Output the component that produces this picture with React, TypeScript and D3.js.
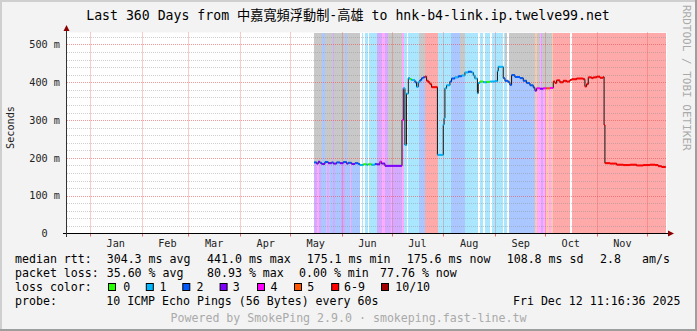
import React, { useEffect } from 'react';
import * as d3 from 'd3';

// ---------- text ----------
const TITLE = 'Last 360 Days from 中嘉寬頻浮動制-高雄 to hnk-b4-link.ip.twelve99.net';
const Y_LABEL = 'Seconds';
const WATERMARK = 'RRDTOOL / TOBI OETIKER';
const FOOTER = 'Powered by SmokePing 2.9.0 · smokeping.fast-line.tw';
const PROBE_TEXT = '10 ICMP Echo Pings (56 Bytes) every 60s';
const DATE_TEXT = 'Fri Dec 12 11:16:36 2025';

const rttLabel = 'median rtt:';
const rttStats = ['304.3 ms avg', '441.0 ms max', '175.1 ms min', '175.6 ms now', '108.8 ms sd', '2.8', 'am/s'];
const lossLabel = 'packet loss:';
const lossStats = ['35.60 % avg', '80.93 % max', '0.00 % min', '77.76 % now'];
const lossColorLabel = 'loss color:';
const probeLabel = 'probe:';

// ---------- axes ----------
const timeStart = '2024-12-18 06:00';
const timeEnd = '2025-12-13 06:00';
const dataEnd = '2025-12-12 11:16';
const yMaxMs = 531.7;
const yMajorTicks = [0, 100, 200, 300, 400, 500];
const yMinorTicks = [20, 40, 60, 80, 120, 140, 160, 180, 220, 240, 260, 280, 320, 340, 360, 380, 420, 440, 460, 480, 520];

// ---------- loss classes ----------
const lossNames = ['0', '1', '2', '3', '4', '5', '6-9', '10/10'];
const lossColors = ['#26ff00', '#00b8ff', '#0059ff', '#7e00ff', '#ff00ff', '#ff5500', '#ff0000', '#a10000'];

// ---------- loss background bands (start, class; -1 = no data) ----------
const bandStart = [
  '2025-05-15 11:00', '2025-05-17 06:00', '2025-05-18 11:00', '2025-05-19 16:00', '2025-05-22 16:00',
  '2025-05-23 06:00', '2025-05-24 11:00', '2025-05-25 01:00', '2025-05-26 21:00', '2025-05-28 01:00',
  '2025-05-31 16:00', '2025-06-03 01:00', '2025-06-06 01:00', '2025-06-06 16:00', '2025-06-12 01:00',
  '2025-06-12 23:00', '2025-06-13 21:00', '2025-06-15 01:00', '2025-06-16 21:00', '2025-06-17 11:00',
  '2025-06-18 23:00', '2025-06-19 13:00', '2025-06-22 06:00', '2025-06-25 06:00', '2025-06-27 01:00',
  '2025-06-30 16:00', '2025-07-01 06:00', '2025-07-07 06:00', '2025-07-08 04:00', '2025-07-10 06:00',
  '2025-07-10 21:00', '2025-07-17 11:00', '2025-07-20 18:00', '2025-07-28 21:00', '2025-08-05 16:00',
  '2025-08-14 01:00', '2025-08-21 21:00', '2025-08-22 18:00', '2025-08-24 21:00', '2025-08-26 01:00',
  '2025-08-29 01:00', '2025-08-29 23:00', '2025-09-05 21:00', '2025-09-06 11:00', '2025-09-08 13:00',
  '2025-09-09 11:00', '2025-09-25 01:00', '2025-09-26 06:00', '2025-09-28 16:00', '2025-09-29 21:00',
  '2025-10-01 16:00', '2025-10-03 11:00', '2025-10-04 16:00', '2025-10-05 21:00', '2025-10-16 01:00',
  '2025-10-16 23:00',
];
const bandLoss = [
  3, 4, 3, 2, 4,
  2, 4, 2, 3, 2,
  3, 2, 4, 2, -1,
  1, -1, 1, -1, 1,
  -1, 1, 3, 4, 3,
  4, 3, 4, 1, -1,
  1, 2, 6, 1, 2,
  1, -1, 1, -1, 1,
  -1, 1, -1, 1, -1,
  2, 5, 4, 3, 4,
  5, 4, 5, 6, -1,
  6,
];

// ---------- smoke reaching the top of the graph ----------
const smokeStart = ['2025-05-15 11:00', '2025-05-21 18:00', '2025-05-27 11:00', '2025-06-03 23:00', '2025-06-28 21:00', '2025-07-17 11:00', '2025-08-11 01:00', '2025-09-07 01:00', '2025-09-09 11:00', '2025-09-26 06:00', '2025-09-29 02:00'];
const smokeEnd = ['2025-05-19 23:00', '2025-05-26 21:00', '2025-06-03 01:00', '2025-06-12 01:00', '2025-07-07 06:00', '2025-07-20 18:00', '2025-08-14 01:00', '2025-09-08 13:00', '2025-09-25 01:00', '2025-09-28 01:00', '2025-10-05 06:00'];

// ---------- median rtt (ms) with loss class ----------
const medDates = [
  '2025-05-15 11:00', '2025-05-17', '2025-05-18', '2025-05-19', '2025-05-20', '2025-05-22', '2025-05-24', '2025-05-26',
  '2025-05-27', '2025-05-29', '2025-05-31', '2025-06-02', '2025-06-04', '2025-06-05', '2025-06-07', '2025-06-09',
  '2025-06-11', '2025-06-12', '2025-06-14', '2025-06-16', '2025-06-17', '2025-06-19', '2025-06-21', '2025-06-22',
  '2025-06-24', '2025-06-25', '2025-06-27', '2025-07-07 06:00', '2025-07-08', '2025-07-09', '2025-07-10', '2025-07-11',
  '2025-07-12', '2025-07-13', '2025-07-15', '2025-07-16', '2025-07-17', '2025-07-18', '2025-07-19', '2025-07-20',
  '2025-07-21', '2025-07-22', '2025-07-23', '2025-07-24', '2025-07-25', '2025-07-28 12:00', '2025-08-01', '2025-08-01 12:00',
  '2025-08-02', '2025-08-03', '2025-08-05', '2025-08-06', '2025-08-08', '2025-08-10', '2025-08-12', '2025-08-14',
  '2025-08-16', '2025-08-18', '2025-08-19', '2025-08-20', '2025-08-21 12:00', '2025-08-22', '2025-08-23', '2025-08-25',
  '2025-08-27', '2025-08-29', '2025-09-01', '2025-09-02 12:00', '2025-09-03', '2025-09-06', '2025-09-07', '2025-09-09',
  '2025-09-10', '2025-09-11', '2025-09-13', '2025-09-16', '2025-09-18', '2025-09-20', '2025-09-22', '2025-09-24',
  '2025-09-25', '2025-09-26', '2025-09-28', '2025-09-30', '2025-10-02', '2025-10-04', '2025-10-06', '2025-10-07',
  '2025-10-08', '2025-10-10', '2025-10-12', '2025-10-14', '2025-10-16', '2025-10-17', '2025-10-20', '2025-10-24',
  '2025-10-25', '2025-10-26', '2025-10-27', '2025-10-29', '2025-10-30', '2025-11-01', '2025-11-03', '2025-11-05',
  '2025-11-05 12:00', '2025-11-06', '2025-11-09', '2025-11-13', '2025-11-17', '2025-11-21', '2025-11-25', '2025-11-29',
  '2025-12-03', '2025-12-06', '2025-12-08', '2025-12-10',
];
const medValues = [
  188, 185, 190, 187, 184, 189, 186, 188,
  185, 188, 186, 189, 185, 187, 184, 186,
  184, 181, 183, 182, 183, 182, 184, 183,
  190, 185, 179, 300, 384, 234, 370, 411,
  408, 406, 400, 388, 400, 406, 411, 413,
  415, 404, 400, 395, 387, 208, 288, 305,
  384, 392, 402, 410, 413, 416, 418, 426,
  428, 426, 418, 410, 371, 398, 402, 400,
  401, 402, 403, 430, 441, 411, 404, 400,
  393, 419, 414, 411, 404, 398, 392, 386,
  378, 384, 383, 384, 384, 385, 402, 398,
  405, 400, 404, 402, 406, 408, 410, 408,
  389, 395, 413, 411, 413, 415, 412, 414,
  287, 186, 185, 182, 181, 182, 180, 181,
  182, 181, 178, 176,
];
const medLoss = [
  2, 3, 3, 2, 3, 2, 3, 2,
  3, 2, 3, 2, 3, 2, 3, 2,
  2, 1, 0, 1, 0, 1, 2, 3,
  4, 3, 3, 4, 1, 1, 1, 1,
  0, 1, 2, 1, 1, 2, 2, 2,
  6, 6, 6, 6, 6, 1, 1, 1,
  1, 1, 2, 2, 1, 2, 1, 1,
  2, 1, 1, 1, 1, 1, 0, 1,
  0, 1, 1, 1, 1, 2, 2, 2,
  2, 2, 2, 2, 2, 2, 2, 2,
  3, 4, 3, 4, 5, 4, 6, 6,
  6, 6, 6, 6, 6, 6, 6, 6,
  6, 6, 6, 6, 6, 6, 6, 6,
  6, 6, 6, 6, 6, 6, 6, 6,
  6, 6, 6, 6,
];

// ---------- layout ----------
const W = 697;
const H = 331;
const PLOT = { left: 67, right: 667, top: 32.5, bottom: 233.5 };
const MONO = "'DejaVu Sans Mono', 'Noto Sans CJK TC', monospace";
const LEG_FS = 11.6;
const AX_FS = 10.2;
const rowY = [263, 277, 291, 305];
const statX = [106.7, 207, 306.7, 406.7, 506.7, 600, 642];
const lossStatX = [106.7, 207, 299, 380];
const boxX = [108, 145.8, 182.3, 219.6, 257, 294, 331.2, 381];
const boxLabelX = [123.2, 159.6, 196.4, 232.8, 270.6, 307.2, 344, 395.2];

const p1 = d3.timeParse('%Y-%m-%d %H:%M');
const p2 = d3.timeParse('%Y-%m-%d');
const parse = (s: string): Date => (p1(s) || p2(s)) as Date;

export default function App() {
  useEffect(() => {
    document.body.style.margin = '0';
  }, []);

  const x = d3.scaleTime().domain([parse(timeStart), parse(timeEnd)]).range([PLOT.left, PLOT.right]);
  const y = d3.scaleLinear().domain([0, yMaxMs]).range([PLOT.bottom, PLOT.top]);

  const med = medDates.map((d, i) => ({ date: parse(d), v: medValues[i], loss: medLoss[i] }));
  const endD = parse(dataEnd);
  const medExt = [...med, { date: endD, v: med[med.length - 1].v, loss: med[med.length - 1].loss }];

  const line = d3.line<any>().x((d) => x(d.date)).y((d) => y(d.v)).curve(d3.curveStepAfter);
  const smokeArea = d3
    .area<any>()
    .x((d) => x(d.date))
    .y0(PLOT.top)
    .y1((d) => y(d.v))
    .curve(d3.curveStepAfter);

  const bgColor = (k: number) => d3.interpolateRgb('#ffffff', lossColors[k])(0.335);

  const bands = bandStart.map((s, i) => ({
    a: parse(s),
    b: i + 1 < bandStart.length ? parse(bandStart[i + 1]) : endD,
    loss: bandLoss[i],
  }));

  const months = d3.timeMonth.range(d3.timeMonth.ceil(parse(timeStart)), parse(timeEnd));
  const monthLabels = d3.timeMonth
    .range(parse('2025-01-01'), parse('2025-12-01'))
    .map((m) => ({ d: d3.timeHour.offset(d3.timeDay.offset(m, 15), 12), t: d3.timeFormat('%b')(m) }));

  const gy = (v: number) => Math.round(y(v)) + 0.5;

  return (
    <svg
      width={W}
      height={H}
      viewBox={`0 0 ${W} ${H}`}
      style={{ position: 'absolute', left: 0, top: 0, display: 'block' }}
      fontFamily={MONO}
    >
      <defs>
        <clipPath id="smokeClip">
          <path d={smokeArea(medExt) || ''} />
        </clipPath>
      </defs>
      {/* frame */}
      <rect x={0} y={0} width={W} height={H} fill="#f3f3f3" />
      <rect x={0} y={0} width={W} height={2} fill="#cfcfcf" />
      <rect x={0} y={0} width={2} height={H} fill="#cfcfcf" />
      <rect x={W - 2} y={0} width={2} height={H} fill="#9e9e9e" />
      <rect x={0} y={H - 2} width={W} height={2} fill="#9e9e9e" />

      {/* canvas */}
      <rect x={PLOT.left} y={PLOT.top} width={PLOT.right - PLOT.left} height={PLOT.bottom - PLOT.top} fill="#ffffff" />

      {/* loss background */}
      {bands.map((b, i) =>
        b.loss < 0 ? null : (
          <rect
            key={'b' + i}
            x={x(b.a)}
            y={PLOT.top}
            width={Math.max(0, x(b.b) - x(b.a))}
            height={PLOT.bottom - PLOT.top}
            fill={bgColor(b.loss)}
            shapeRendering="crispEdges"
          />
        )
      )}

      {/* smoke */}
      <g clipPath="url(#smokeClip)">
        {smokeStart.map((s, i) => (
          <rect
            key={'s' + i}
            x={x(parse(s))}
            y={PLOT.top}
            width={x(parse(smokeEnd[i])) - x(parse(s))}
            height={PLOT.bottom - PLOT.top}
            fill="#c8c8c8"
            shapeRendering="crispEdges"
          />
        ))}
      </g>

      {/* grid */}
      {yMinorTicks.map((v) => (
        <line key={'mi' + v} x1={PLOT.left} x2={PLOT.right} y1={gy(v)} y2={gy(v)} stroke="rgba(140,140,140,0.42)" strokeDasharray="1,1" />
      ))}
      {yMajorTicks.slice(1).map((v) => (
        <line key={'ma' + v} x1={PLOT.left} x2={PLOT.right} y1={gy(v)} y2={gy(v)} stroke="rgba(235,70,70,0.55)" strokeDasharray="1,1" />
      ))}
      {months.map((m, i) => {
        const xx = Math.round(x(m)) + 0.5;
        return (
          <g key={'vm' + i}>
            <line x1={xx} x2={xx} y1={PLOT.top} y2={PLOT.bottom} stroke="rgba(235,70,70,0.55)" strokeDasharray="1,1" />
            <line x1={xx} x2={xx} y1={PLOT.bottom} y2={PLOT.bottom + 3} stroke="rgba(235,70,70,0.8)" />
          </g>
        );
      })}

      {/* median line */}
      <path d={line(medExt) || ''} fill="none" stroke="#111" strokeWidth={1} />
      {med.map((d, i) => {
        const nx = x(medExt[i + 1].date);
        return (
          <line key={'m' + i} x1={x(d.date)} x2={nx} y1={y(d.v)} y2={y(d.v)} stroke={lossColors[d.loss]} strokeWidth={2} />
        );
      })}

      {/* axes */}
      <line x1={63} x2={669} y1={PLOT.bottom} y2={PLOT.bottom} stroke="#000" strokeWidth={1} />
      <line x1={66.5} x2={66.5} y1={237} y2={29} stroke="#333" strokeWidth={1} />
      <path d="M668,230.5 L674,233.5 L668,236.5 Z" fill="#8b0000" />
      <path d="M63.5,31 L66.5,25 L69.5,31 Z" fill="#8b0000" />

      {/* y tick labels */}
      {yMajorTicks.map((v) => (
        <text
          key={'yl' + v}
          x={v === 0 ? 47.6 : 60}
          y={y(v) + 3.7}
          fontSize={AX_FS}
          textAnchor="end"
          fill="#222"
        >
          {v === 0 ? '0' : `${v} m`}
        </text>
      ))}
      {/* month labels */}
      {monthLabels.map((m, i) => (
        <text key={'ml' + i} x={x(m.d)} y={247} fontSize={AX_FS} textAnchor="middle" fill="#222">
          {m.t}
        </text>
      ))}

      {/* y axis label */}
      <text x={14} y={127.5} fontSize={10.2} textAnchor="middle" transform="rotate(-90 14 127.5)" fill="#222">
        {Y_LABEL}
      </text>

      {/* title */}
      <text x={348} y={19.5} fontSize={13.2} textAnchor="middle" fill="#000">
        {TITLE}
      </text>

      {/* watermark */}
      <text x={683} y={5} fontSize={11} transform="rotate(90 683 5)" fill="#aaaaaa">
        {WATERMARK}
      </text>

      {/* legend */}
      <g fontSize={LEG_FS} fill="#000">
        <text x={15} y={rowY[0]}>{rttLabel}</text>
        {rttStats.map((s, i) => (
          <text key={'rs' + i} x={statX[i]} y={rowY[0]}>
            {s}
          </text>
        ))}
        <text x={15} y={rowY[1]}>{lossLabel}</text>
        {lossStats.map((s, i) => (
          <text key={'ls' + i} x={lossStatX[i]} y={rowY[1]}>
            {s}
          </text>
        ))}
        <text x={15} y={rowY[2]}>{lossColorLabel}</text>
        {lossNames.map((n, i) => (
          <g key={'lc' + i}>
            <rect x={boxX[i] + 0.5} y={283.5} width={7} height={7} fill={lossColors[i]} stroke="#000" strokeWidth={1} />
            <text x={boxLabelX[i]} y={rowY[2]}>{n}</text>
          </g>
        ))}
        <text x={15} y={rowY[3]}>{probeLabel}</text>
        <text x={106.2} y={rowY[3]}>{PROBE_TEXT}</text>
        <text x={680.5} y={rowY[3]} textAnchor="end">
          {DATE_TEXT}
        </text>
      </g>

      <text x={348.5} y={321.7} fontSize={LEG_FS} textAnchor="middle" fill="#aaaaaa">
        {FOOTER}
      </text>
    </svg>
  );
}
